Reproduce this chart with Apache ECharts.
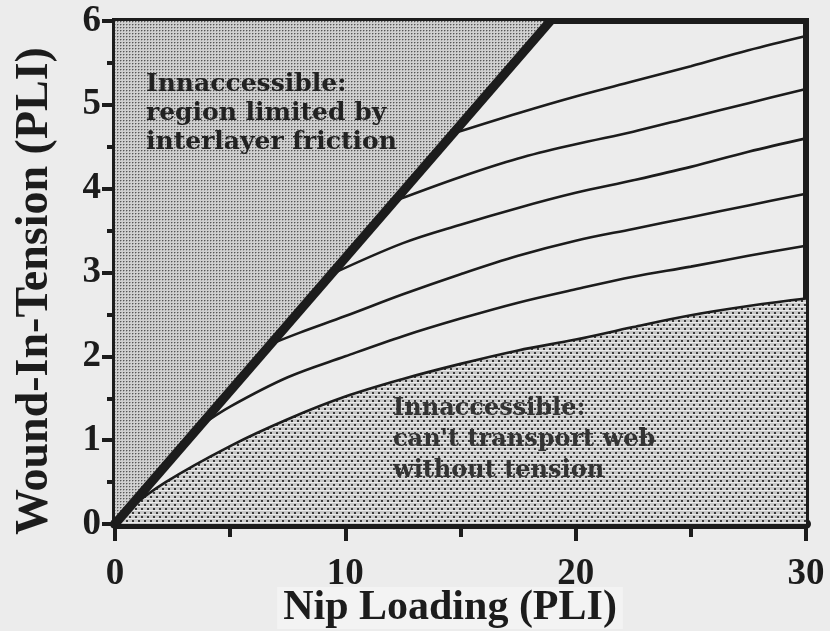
<!DOCTYPE html>
<html><head><meta charset="utf-8">
<script src="https://cdn.jsdelivr.net/npm/echarts@6/dist/echarts.min.js"></script>
<style>html,body{margin:0;padding:0;background:#ececec}#c{width:830px;height:631px}</style>
</head><body><div id="c"></div>
<script>
// ---- data ----
const xRange = [0, 30];
const yRange = [0, 6];
const xTickStep = 10;
const yTickStep = 1;
const xTitle = 'Nip Loading (PLI)';
const yTitle = 'Wound-In-Tension (PLI)';
const upperNote = 'Innaccessible:\nregion limited by\ninterlayer friction';
const lowerNote = "Innaccessible:\ncan't transport web\nwithout tension";

// interlayer-friction limit (thick straight line)
const frictionLimit = [[0, 0], [18.9, 6]];
// constant-parameter curves, top to bottom
const curve1 = [[14.7, 4.66], [17.5, 4.9], [20, 5.1], [22.5, 5.28], [25, 5.46], [27.5, 5.65], [30, 5.82]];
const curve2 = [[12.2, 3.86], [15, 4.14], [17.5, 4.36], [20, 4.53], [22.5, 4.68], [25, 4.85], [27.5, 5.02], [30, 5.19]];
const curve3 = [[9.4, 2.98], [12.5, 3.35], [15, 3.57], [17.5, 3.77], [20, 3.95], [22.5, 4.1], [25, 4.26], [27.5, 4.44], [30, 4.6]];
const curve4 = [[6.8, 2.15], [8, 2.28], [10, 2.48], [12.5, 2.74], [15, 2.98], [17.5, 3.2], [20, 3.38], [22.5, 3.52], [25, 3.66], [27.5, 3.8], [30, 3.94]];
const curve5 = [[3.7, 1.17], [5, 1.4], [7.5, 1.75], [10, 2.0], [12.5, 2.24], [15, 2.45], [17.5, 2.64], [20, 2.8], [22.5, 2.95], [25, 3.07], [27.5, 3.2], [30, 3.32]];
// web-transport limit (bottom curve)
const transportLimit = [[0, 0], [0.6, 0.18], [2.2, 0.5], [5, 0.93], [7.5, 1.25], [10, 1.52], [12.5, 1.73], [15, 1.91], [17.5, 2.07], [20, 2.2], [22.5, 2.35], [25, 2.49], [27.5, 2.6], [30, 2.69]];

// ---- styling helpers ----
function makePattern(w, h, bg, rects) {
  const c = document.createElement('canvas');
  c.width = w; c.height = h;
  const g = c.getContext('2d');
  g.fillStyle = bg; g.fillRect(0, 0, w, h);
  rects.forEach(r => { g.fillStyle = r[4]; g.fillRect(r[0], r[1], r[2], r[3]); });
  return c;
}
const stipple = makePattern(3, 3, '#d0d0d0', [[0, 0, 1, 1, '#575757'], [1, 0, 1, 1, '#9c9c9c'], [0, 1, 1, 1, '#a6a6a6']]);
const dotRows = makePattern(6, 8, '#c9c9c9', [[0, 2, 6, 1, '#ebebeb'], [0, 6, 6, 1, '#ebebeb'], [0, 0, 2, 2, '#3a3a3a'], [3, 4, 2, 2, '#3a3a3a']]);

const ink = '#1c1c1c';
const serif = 'Liberation Serif';
const thin = d => ({
  type: 'line', data: d, showSymbol: false, smooth: 0.35, z: 4,
  lineStyle: { color: ink, width: 2.6 }, silent: true
});

const chart = echarts.init(document.getElementById('c'), null, { renderer: 'canvas' });
chart.setOption({
  animation: false,
  backgroundColor: '#ececec',
  grid: { left: 115, right: 24, top: 21, bottom: 107, show: true, borderColor: ink, borderWidth: 6, backgroundColor: 'transparent' },
  xAxis: {
    type: 'value', min: xRange[0], max: xRange[1], interval: xTickStep,
    axisLine: { lineStyle: { color: ink, width: 10 } },
    axisTick: { length: 17, lineStyle: { color: ink, width: 4 } },
    minorTick: { show: true, splitNumber: 2, length: 13, lineStyle: { color: ink, width: 4 } },
    splitLine: { show: false },
    axisLabel: { fontFamily: serif, fontWeight: 'bold', fontSize: 37, color: ink, margin: 32 }
  },
  yAxis: {
    type: 'value', min: yRange[0], max: yRange[1], interval: yTickStep,
    axisLine: { lineStyle: { color: ink, width: 6 } },
    axisTick: { length: 13, lineStyle: { color: ink, width: 4 } },
    minorTick: { show: true, splitNumber: 2, length: 8, lineStyle: { color: ink, width: 4 } },
    splitLine: { show: false },
    axisLabel: { fontFamily: serif, fontWeight: 'bold', fontSize: 37, color: ink, margin: 14 }
  },
  graphic: [
    { type: 'text', x: 35, y: 291, rotation: Math.PI / 2, z: 10,
      style: { text: yTitle, fontFamily: serif, fontWeight: 'bold', fontSize: 46, fill: ink, align: 'center', verticalAlign: 'middle' } },
    { type: 'text', x: 450, y: 608, z: 10,
      style: { text: xTitle, fontFamily: serif, fontWeight: 'bold', fontSize: 42, fill: ink, align: 'center', verticalAlign: 'middle',
               backgroundColor: '#f3f3f3', padding: [0, 6, 0, 6] } },
    { type: 'text', left: 146, top: 70, z: 10,
      style: { text: upperNote, fontFamily: 'DejaVu Serif', fontWeight: 'bold', fontSize: 25, lineHeight: 29, fill: '#222' } },
    { type: 'text', left: 393, top: 393, z: 10,
      style: { text: lowerNote, fontFamily: 'DejaVu Serif', fontWeight: 'bold', fontSize: 24, lineHeight: 31, fill: '#333' } }
  ],
  series: [
    { type: 'line', data: frictionLimit, showSymbol: false, z: 1, silent: true,
      lineStyle: { width: 0, opacity: 0 },
      areaStyle: { origin: 'end', color: { image: stipple, repeat: 'repeat' }, opacity: 1 } },
    { type: 'line', data: transportLimit, showSymbol: false, smooth: 0.35, z: 2, silent: true,
      lineStyle: { color: ink, width: 2.6 },
      areaStyle: { origin: 'start', color: { image: dotRows, repeat: 'repeat' }, opacity: 1 } },
    thin(curve1), thin(curve2), thin(curve3), thin(curve4), thin(curve5),
    { type: 'line', data: frictionLimit, showSymbol: false, z: 6, silent: true,
      lineStyle: { color: ink, width: 9, cap: 'butt' } }
  ]
});
</script></body></html>
